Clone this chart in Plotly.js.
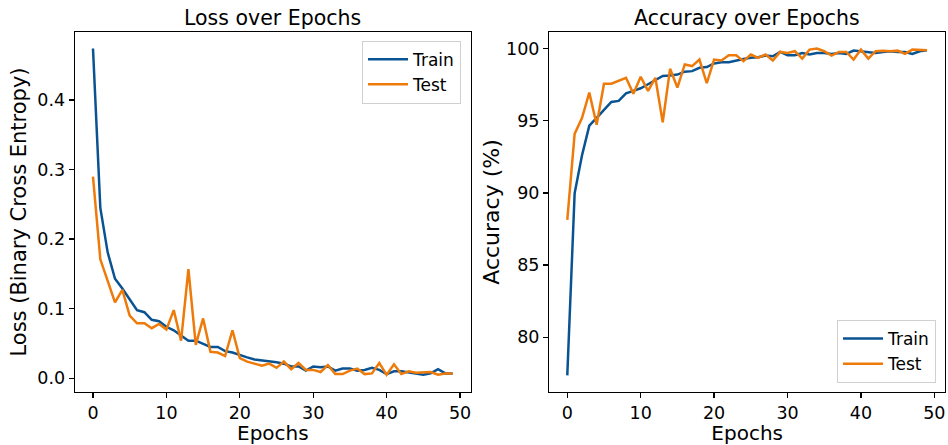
<!DOCTYPE html>
<html>
<head>
<meta charset="utf-8">
<script src="https://cdn.plot.ly/plotly-3.0.1.min.js"></script>
<style>html,body{margin:0;padding:0;background:#fff;}#chart{width:948px;height:445px;}</style>
</head>
<body>
<div id="chart"></div>
<script>
const epochs = Array.from({length: 50}, (_, i) => i);

const trainLoss = [0.474, 0.245, 0.181, 0.143, 0.129, 0.114, 0.098, 0.095, 0.084, 0.082,
  0.074, 0.069, 0.062, 0.054, 0.054, 0.050, 0.045, 0.045, 0.039, 0.037,
  0.033, 0.030, 0.027, 0.026, 0.024, 0.023, 0.021, 0.017, 0.017, 0.011,
  0.017, 0.016, 0.017, 0.011, 0.014, 0.014, 0.011, 0.012, 0.015, 0.012,
  0.006, 0.010, 0.010, 0.008, 0.007, 0.005, 0.007, 0.013, 0.007, 0.007];

const testLoss = [0.290, 0.171, 0.140, 0.109, 0.127, 0.090, 0.079, 0.079, 0.072, 0.078,
  0.070, 0.098, 0.054, 0.157, 0.048, 0.086, 0.038, 0.037, 0.032, 0.069,
  0.029, 0.024, 0.021, 0.018, 0.021, 0.015, 0.024, 0.013, 0.022, 0.012,
  0.012, 0.009, 0.019, 0.006, 0.006, 0.011, 0.014, 0.006, 0.007, 0.022,
  0.005, 0.020, 0.006, 0.010, 0.008, 0.008, 0.009, 0.005, 0.007, 0.007];

const trainAcc = [77.36, 89.97, 92.6, 94.66, 95.2, 95.74, 96.3, 96.38, 96.9, 97.07,
  97.25, 97.53, 97.8, 98.1, 98.14, 98.2, 98.4, 98.44, 98.67, 98.72,
  98.97, 99.06, 99.06, 99.18, 99.28, 99.36, 99.4, 99.52, 99.47, 99.77,
  99.54, 99.54, 99.7, 99.59, 99.7, 99.7, 99.63, 99.7, 99.63, 99.86,
  99.82, 99.77, 99.7, 99.77, 99.82, 99.77, 99.77, 99.63, 99.82, 99.89];

const testAcc = [88.13, 94.09, 95.19, 96.95, 94.73, 97.57, 97.57, 97.8, 97.98, 96.88,
  98.05, 97.07, 97.98, 94.89, 98.6, 97.3, 98.9, 98.79, 99.24, 97.6,
  99.24, 99.18, 99.54, 99.54, 99.13, 99.59, 99.36, 99.59, 99.18, 99.77,
  99.7, 99.82, 99.31, 99.93, 100.0, 99.82, 99.52, 99.77, 99.77, 99.24,
  99.93, 99.31, 99.82, 99.86, 99.82, 99.86, 99.63, 99.93, 99.89, 99.89];

const seriesNames = ['Train', 'Test'];
const titles = ['Loss over Epochs', 'Accuracy over Epochs'];
const xLabel = 'Epochs';
const yLabels = ['Loss (Binary Cross Entropy)', 'Accuracy (%)'];

const BLUE = '#0a5392';
const ORANGE = '#ee7a0a';
const FONT = 'DejaVu Sans, sans-serif';

const traces = [
  {x: epochs, y: trainLoss, name: seriesNames[0], type: 'scatter', mode: 'lines', line: {color: BLUE, width: 2.5}, xaxis: 'x', yaxis: 'y', legend: 'legend'},
  {x: epochs, y: testLoss, name: seriesNames[1], type: 'scatter', mode: 'lines', line: {color: ORANGE, width: 2.5}, xaxis: 'x', yaxis: 'y', legend: 'legend'},
  {x: epochs, y: trainAcc, name: seriesNames[0], type: 'scatter', mode: 'lines', line: {color: BLUE, width: 2.5}, xaxis: 'x2', yaxis: 'y2', legend: 'legend2'},
  {x: epochs, y: testAcc, name: seriesNames[1], type: 'scatter', mode: 'lines', line: {color: ORANGE, width: 2.5}, xaxis: 'x2', yaxis: 'y2', legend: 'legend2'}
];

const axisBase = {
  showgrid: false, zeroline: false, showline: true, mirror: true,
  linecolor: '#000', linewidth: 1.3, ticks: 'outside', ticklen: 5, tickwidth: 1.3, tickcolor: '#000',
  tickfont: {family: FONT, size: 17.5, color: '#000'}
};

const legendBase = {
  font: {family: FONT, size: 17, color: '#000'},
  bgcolor: 'rgba(255,255,255,0.8)', bordercolor: '#d0d0d0', borderwidth: 1,
  tracegroupgap: 0, itemwidth: 40
};

const layout = {
  width: 948, height: 445,
  margin: {l: 0, r: 0, t: 0, b: 0},
  paper_bgcolor: '#fff', plot_bgcolor: '#fff',
  font: {family: FONT, color: '#000'},
  showlegend: true,
  xaxis: Object.assign({}, axisBase, {
    domain: [75/948, 470.7/948], anchor: 'y', range: [-2.45, 51.45],
    tickvals: [0, 10, 20, 30, 40, 50],
    title: {text: xLabel, font: {family: FONT, size: 20, color: '#000'}, standoff: 2}
  }),
  yaxis: Object.assign({}, axisBase, {
    domain: [1 - 391.7/445, 1 - 32.3/445], anchor: 'x', range: [-0.0193, 0.4973],
    tickvals: [0, 0.1, 0.2, 0.3, 0.4], tickformat: '.1f',
    title: {text: yLabels[0], font: {family: FONT, size: 21, color: '#000'}, standoff: 5}
  }),
  xaxis2: Object.assign({}, axisBase, {
    domain: [549.3/948, 945/948], anchor: 'y2', range: [-2.45, 51.45],
    tickvals: [0, 10, 20, 30, 40, 50],
    title: {text: xLabel, font: {family: FONT, size: 20, color: '#000'}, standoff: 2}
  }),
  yaxis2: Object.assign({}, axisBase, {
    domain: [1 - 391.7/445, 1 - 32.3/445], anchor: 'x2', range: [76.23, 101.13],
    tickvals: [80, 85, 90, 95, 100],
    title: {text: yLabels[1], font: {family: FONT, size: 22, color: '#000'}, standoff: 0}
  }),
  legend: Object.assign({}, legendBase, {x: 461/948, y: 1 - 40.7/445, xanchor: 'right', yanchor: 'top'}),
  legend2: Object.assign({}, legendBase, {x: 936/948, y: 1 - 383/445, xanchor: 'right', yanchor: 'bottom'}),
  annotations: [
    {text: titles[0], xref: 'paper', yref: 'paper', x: (75 + 470.7) / 2 / 948, y: 1 - 18/445, xanchor: 'center', yanchor: 'middle', showarrow: false, font: {family: FONT, size: 20.5, color: '#000'}},
    {text: titles[1], xref: 'paper', yref: 'paper', x: (549.3 + 945) / 2 / 948, y: 1 - 18/445, xanchor: 'center', yanchor: 'middle', showarrow: false, font: {family: FONT, size: 20.5, color: '#000'}}
  ]
};

Plotly.newPlot('chart', traces, layout, {displayModeBar: false, staticPlot: true});
</script>
</body>
</html>
